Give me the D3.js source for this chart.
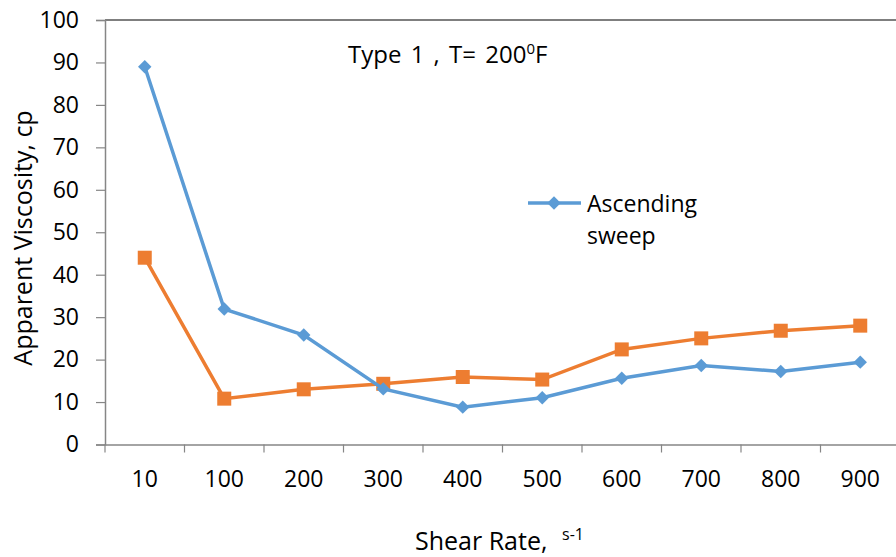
<!DOCTYPE html>
<html>
<head>
<meta charset="utf-8">
<script src="https://cdn.jsdelivr.net/npm/d3@7"></script>
<style>
  body { margin: 0; background: #fff; }
  text { font-family: "Open Sans", "Noto Sans", sans-serif; fill: #000; }
</style>
</head>
<body>
<script>
// shear rate categories and the two sweeps
var rates = ["10", "100", "200", "300", "400", "500", "600", "700", "800", "900"];
var ascending = [89, 31.9, 25.8, 13.1, 8.8, 11, 15.6, 18.6, 17.2, 19.4];
var descending = [44, 10.8, 13, 14.3, 15.9, 15.3, 22.4, 25, 26.8, 28.0];
var yTicks = [0, 10, 20, 30, 40, 50, 60, 70, 80, 90, 100];

var width = 896,
    height = 557;

// plot box (right end runs past the window, as in the original)
var plotLeft = 105, plotTop = 20, plotBottom = 444.5, plotRight = 900;

var svg = d3.select("body").append("svg")
    .attr("width", width)
    .attr("height", height);

var x = d3.scaleBand()
    .domain(rates)
    .range([plotLeft, plotRight]);

var y = d3.scaleLinear()
    .domain([0, 100])
    .range([plotBottom, plotTop]);

// top border of the plot area
svg.append("line")
    .attr("x1", plotLeft).attr("x2", plotRight)
    .attr("y1", plotTop).attr("y2", plotTop)
    .attr("stroke", "#000").attr("stroke-width", 1.2);

// y axis
var yAxis = svg.append("g")
    .attr("transform", "translate(" + plotLeft + ",0)")
    .call(d3.axisLeft(y).tickValues(yTicks).tickSize(9).tickPadding(17));
yAxis.select(".domain").attr("stroke", "#868686").attr("stroke-width", 1.5);
yAxis.selectAll(".tick line").attr("stroke", "#868686").attr("stroke-width", 1.2);
yAxis.selectAll(".tick text")
    .style("font-size", "23px")
    .style("font-family", "'Open Sans', sans-serif")
    .attr("fill", "#000");

// x axis: ticks sit between categories
var xAxis = svg.append("g")
    .attr("transform", "translate(0," + plotBottom + ")")
    .call(d3.axisBottom(x).tickSize(0).tickPadding(26));
xAxis.select(".domain").attr("stroke", "#868686").attr("stroke-width", 1.5);
xAxis.selectAll(".tick text")
    .style("font-size", "23px")
    .style("font-family", "'Open Sans', sans-serif")
    .attr("fill", "#000");
xAxis.selectAll(".sep")
    .data(rates)
    .enter().append("line")
    .attr("class", "sep")
    .attr("x1", function(d) { return x(d); })
    .attr("x2", function(d) { return x(d); })
    .attr("y1", 0).attr("y2", 8)
    .attr("stroke", "#868686").attr("stroke-width", 1.2);

var cx = function(d, i) { return x(rates[i]) + x.bandwidth() / 2; };

var line = d3.line()
    .x(cx)
    .y(function(d) { return y(d); });

// descending (orange, squares)
svg.append("path")
    .datum(descending)
    .attr("fill", "none")
    .attr("stroke", "#ED7D31")
    .attr("stroke-width", 3.5)
    .attr("d", line);
svg.selectAll(".sq")
    .data(descending)
    .enter().append("rect")
    .attr("class", "sq")
    .attr("x", function(d, i) { return cx(d, i) - 7; })
    .attr("y", function(d) { return y(d) - 7; })
    .attr("width", 14).attr("height", 14)
    .attr("fill", "#ED7D31");

// ascending (blue, diamonds)
var diamond = d3.symbol().type(d3.symbolDiamond2).size(115);
svg.append("path")
    .datum(ascending)
    .attr("fill", "none")
    .attr("stroke", "#5B9BD5")
    .attr("stroke-width", 3.5)
    .attr("d", line);
svg.selectAll(".dm")
    .data(ascending)
    .enter().append("path")
    .attr("class", "dm")
    .attr("d", diamond)
    .attr("transform", function(d, i) { return "translate(" + cx(d, i) + "," + y(d) + ")"; })
    .attr("fill", "#5B9BD5");

// title
var t = svg.append("text")
    .attr("x", 348).attr("y", 63)
    .style("font-size", "24px")
    .style("word-spacing", "3px");
t.append("tspan").text("Type 1 , T= 200");
t.append("tspan").attr("dy", -9).style("font-size", "15px").text("0");
t.append("tspan").attr("dy", 9).text("F");

// legend
svg.append("line")
    .attr("x1", 528).attr("x2", 581)
    .attr("y1", 203).attr("y2", 203)
    .attr("stroke", "#5B9BD5").attr("stroke-width", 3.5);
svg.append("path")
    .attr("d", diamond)
    .attr("transform", "translate(554,203)")
    .attr("fill", "#5B9BD5");
svg.append("text").attr("x", 587).attr("y", 212)
    .style("font-size", "23px").text("Ascending");
svg.append("text").attr("x", 587).attr("y", 244)
    .style("font-size", "23px").text("sweep");

// axis titles
svg.append("text")
    .attr("transform", "translate(32,238) rotate(-90)")
    .attr("text-anchor", "middle")
    .style("font-size", "25px")
    .text("Apparent Viscosity, cp");

svg.append("text")
    .attr("x", 415).attr("y", 550)
    .style("font-size", "25px")
    .text("Shear Rate,");
svg.append("text")
    .attr("x", 562).attr("y", 540)
    .style("font-size", "16px")
    .text("s-1");
</script>
</body>
</html>
